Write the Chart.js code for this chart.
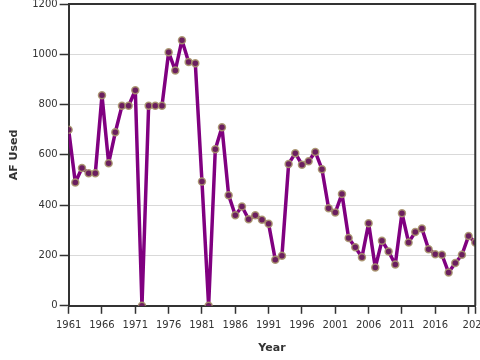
<!DOCTYPE html>
<html>
<head>
<meta charset="utf-8">
<script src="https://cdn.jsdelivr.net/npm/chart.js@4"></script>
<style>
  html, body { margin: 0; padding: 0; overflow: hidden; background: #fff; }
  #wrap { width: 480px; height: 360px; overflow: hidden; }
  #box { width: 494px; height: 364px; margin-top: -4px; }
</style>
</head>
<body>
<div id="wrap"><div id="box"><canvas id="chartCanvas"></canvas></div></div>
<script>
// Years and acre-feet used
const years = [];
for (let y = 1961; y <= 2022; y++) years.push(y);

const afUsed = [
    700, 490, 548, 527, 527, 837, 567, 690, 795, 795,
    857, 0, 795, 795, 795, 1008, 936, 1056, 969, 964,
    494, 0, 622, 710, 440, 360, 395, 344, 360, 342,
    326, 183, 199, 564, 607, 561, 575, 612, 543, 388,
    371, 445, 270, 233, 193, 328, 152, 259, 216, 164,
    368, 252, 293, 307, 225, 205, 203, 132, 170, 203,
    278, 252
];

const yTicks = [0, 200, 400, 600, 800, 1000, 1200];

// draws the top and right edges of the plot box
const frame = {
    id: 'frame',
    afterDraw(chart) {
        const a = chart.chartArea;
        const c = chart.ctx;
        c.save();
        c.strokeStyle = '#333';
        c.lineWidth = 2;
        c.beginPath();
        c.moveTo(a.left, a.top);
        c.lineTo(a.right, a.top);
        c.lineTo(a.right, a.bottom);
        c.stroke();
        c.restore();
    }
};

const ctx = document.getElementById('chartCanvas');
new Chart(ctx, {
    type: 'line',
    data: {
        datasets: [{
            label: 'AF Used',
            data: years.map((y, i) => ({ x: y, y: afUsed[i] })),
            borderColor: '#800080',
            borderWidth: 3.5,
            borderJoinStyle: 'round',
            pointRadius: 3.5,
            pointBackgroundColor: '#6b1f5f',
            pointBorderColor: 'rgba(170,150,110,0.9)',
            pointBorderWidth: 1.5,
            tension: 0
        }]
    },
    options: {
        animation: false,
        responsive: true,
        maintainAspectRatio: false,
        layout: { padding: { left: 4, right: 11, top: 0, bottom: 0 } },
        plugins: { legend: { display: false }, tooltip: { enabled: false } },
        scales: {
            x: {
                type: 'linear',
                min: 1961,
                max: 2022,
                afterBuildTicks(scale) {
                    const t = [];
                    for (let y = 1961; y <= 2021; y += 5) t.push({ value: y });
                    t.push({ value: 2022 });
                    scale.ticks = t;
                },
                ticks: {
                    autoSkip: false,
                    maxRotation: 0,
                    padding: 6,
                    color: '#333',
                    font: { family: 'DejaVu Sans', size: 10 },
                    callback: (v) => (v === 2021 ? '' : String(v))
                },
                grid: { drawOnChartArea: false, tickLength: 8, tickColor: '#333', tickWidth: 1.5 },
                border: { color: '#333', width: 2 },
                title: {
                    display: true,
                    text: 'Year',
                    color: '#333',
                    font: { family: 'DejaVu Sans', size: 11, weight: 'bold' },
                    padding: { top: 4, bottom: 5 }
                }
            },
            y: {
                min: 0,
                max: 1200,
                afterBuildTicks(scale) {
                    scale.ticks = yTicks.map(v => ({ value: v }));
                },
                ticks: {
                    color: '#333',
                    font: { family: 'DejaVu Sans', size: 10 },
                    padding: 2,
                    callback: (v) => String(v)
                },
                grid: { color: '#d9d9d9', lineWidth: 1, tickLength: 9, tickColor: '#333', tickWidth: 1.5 },
                border: { color: '#333', width: 2 },
                title: {
                    display: true,
                    text: 'AF Used',
                    color: '#333',
                    font: { family: 'DejaVu Sans', size: 11, weight: 'bold' },
                    padding: { bottom: 9 }
                }
            }
        }
    },
    plugins: [frame]
});
</script>
</body>
</html>
